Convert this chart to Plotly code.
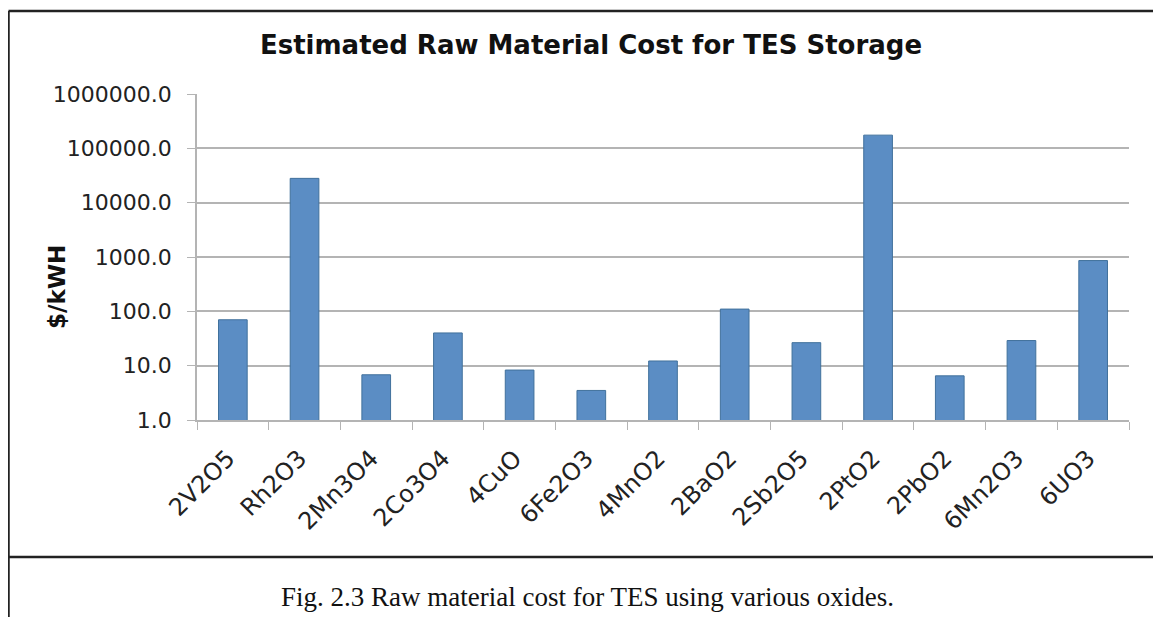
import plotly.graph_objects as go

categories = ["2V2O5", "Rh2O3", "2Mn3O4", "2Co3O4", "4CuO", "6Fe2O3", "4MnO2",
              "2BaO2", "2Sb2O5", "2PtO2", "2PbO2", "6Mn2O3", "6UO3"]
cost_per_kwh = [70, 28000, 6.8, 40, 8.3, 3.5, 12.2, 110, 26.5, 175000, 6.5, 29, 860]
y_tick_vals = [1, 10, 100, 1000, 10000, 100000, 1000000]
y_tick_text = ["1.0", "10.0", "100.0", "1000.0", "10000.0", "100000.0", "1000000.0"]

OFF = 8  # page body margin
W, H = 1161 - OFF, 617 - OFF
L, R, T, B = 197 - OFF, 1129 - OFF, 94 - OFF, 420 - OFF

def px(x):
    return (x - OFF - L) / (R - L)

def py(y):
    return (B - (y - OFF)) / (B - T)

fig = go.Figure(go.Bar(
    x=categories, y=cost_per_kwh,
    marker=dict(color="#5b8dc4", line=dict(color="#41719c", width=1)),
))

font_sans = "'DejaVu Sans', sans-serif"

fig.update_layout(
    width=W, height=H,
    margin=dict(l=L, r=W - R, t=T, b=H - B),
    paper_bgcolor="white", plot_bgcolor="white",
    bargap=0.6,
    showlegend=False,
    font=dict(family=font_sans, color="#222"),
    title=dict(text="<b>Estimated Raw Material Cost for TES Storage</b>",
               x=px(591), xref="paper", xanchor="center",
               y=1 - (45 - OFF) / H, yref="container", yanchor="middle",
               font=dict(size=26, color="#111", family=font_sans)),
)

fig.update_yaxes(
    type="log", range=[0, 6],
    tickvals=y_tick_vals, ticktext=y_tick_text,
    tickfont=dict(size=22, color="#222", family=font_sans),
    showgrid=True, gridcolor="#b4b4b4", gridwidth=1.5,
    showline=True, linecolor="#b4b4b4", linewidth=1.5,
    ticks="outside", ticklen=8, tickcolor="#b4b4b4",
    ticklabelstandoff=11,
    zeroline=False,
)

fig.update_xaxes(
    type="category",
    tickangle=-45,
    tickfont=dict(size=24, color="#222", family=font_sans),
    showline=True, linecolor="#b4b4b4", linewidth=1.5,
    ticks="outside", ticklen=8, tickcolor="#b4b4b4",
    tickson="boundaries",
    ticklabelshift=-5,
    ticklabelstandoff=13,
    showgrid=False,
)

fig.add_annotation(
    text="<b>$/kWH</b>", textangle=-90,
    x=px(57), y=py(287), xref="paper", yref="paper",
    xanchor="center", yanchor="middle",
    showarrow=False, font=dict(size=23, color="#111", family=font_sans),
)

fig.add_annotation(
    text="Fig. 2.3 Raw material cost for TES using various oxides.",
    x=px(587), y=py(597), xref="paper", yref="paper",
    xanchor="center", yanchor="middle",
    showarrow=False,
    font=dict(size=27, color="#111", family="'Liberation Serif', 'Times New Roman', serif"),
)

border = dict(color="#222", width=2.5)
fig.add_shape(type="line", xref="paper", yref="paper",
              x0=px(8.5), x1=px(1170), y0=py(11), y1=py(11), line=border)
fig.add_shape(type="line", xref="paper", yref="paper",
              x0=px(8.5), x1=px(8.5), y0=py(11), y1=py(630), line=border)
fig.add_shape(type="line", xref="paper", yref="paper",
              x0=px(8.5), x1=px(1170), y0=py(557), y1=py(557), line=border)

fig.write_html("out.html")
